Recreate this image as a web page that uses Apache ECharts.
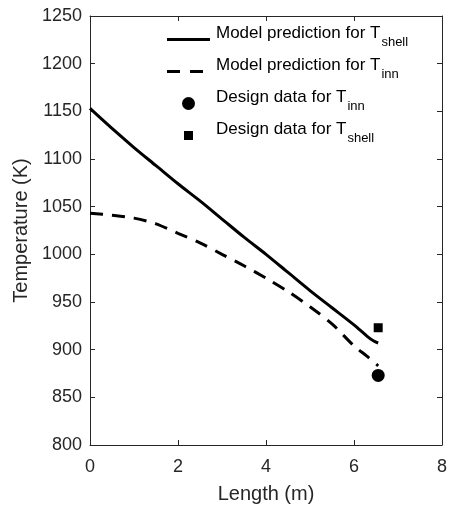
<!DOCTYPE html>
<html>
<head>
<meta charset="utf-8">
<script src="https://cdn.jsdelivr.net/npm/echarts@6/dist/echarts.min.js"></script>
<style>
  html, body { margin: 0; padding: 0; background: #fff; }
  #chart { width: 450px; height: 509px; }
</style>
</head>
<body>
<div id="chart"></div>
<script>
// Axial position along the reactor (m)
var shellLength = [0, 0.5, 1, 1.5, 2, 2.5, 3, 3.5, 4, 4.5, 5, 5.5, 6, 6.3, 6.45, 6.55];
// Model prediction, shell temperature (K)
var shellTemp = [1153, 1132, 1112, 1093, 1074, 1056, 1037, 1018, 1000, 981, 962, 944, 926, 914, 909, 907];

var innLength = [0, 0.5, 1, 1.5, 2, 2.5, 3, 3.5, 4, 4.5, 5, 5.5, 6, 6.3, 6.55];
// Model prediction, inner tube temperature (K)
var innTemp = [1043, 1041, 1038, 1032, 1022, 1012, 1000, 988, 975, 961, 945, 927, 904, 893, 883];

// Design data at the outlet
var designInn = [[6.55, 873]];
var designShell = [[6.55, 923]];

var xTicks = [0, 2, 4, 6, 8];
var yTicks = [800, 850, 900, 950, 1000, 1050, 1100, 1150, 1200, 1250];

var seriesNames = [
  'Model prediction for T|shell',
  'Model prediction for T|inn',
  'Design data for T|inn',
  'Design data for T|shell'
];

// Legend glyphs in a 43 x 18 box (leading moves fix the box extent);
// each glyph sits on the text baseline, slightly below the box centre
var box = 'M0,0 M43,18 ';
var legendIcons = [
  'path://' + box + 'M0,10 L43,10 L43,13 L0,13 Z',
  'path://' + box + 'M0,10 L13,10 L13,13 L0,13 Z M23,10 L36,10 L36,13 L23,13 Z',
  'path://' + box + 'M28,11.5 A6.5,6.5 0 1 1 15,11.5 A6.5,6.5 0 1 1 28,11.5 Z',
  'path://' + box + 'M17,7 L26,7 L26,16 L17,16 Z'
];

function pairs(xs, ys) {
  return xs.map(function (x, i) { return [x, ys[i]]; });
}

var axisColor = '#262626';
var fontFamily = 'Liberation Sans, Arial, sans-serif';

var chart = echarts.init(document.getElementById('chart'), null, { renderer: 'canvas' });

function frameAxis(extra) {
  return Object.assign({
    axisLine: { show: true, onZero: false, lineStyle: { color: axisColor, width: 1 } },
    axisTick: { show: true, inside: true, length: 5, lineStyle: { color: axisColor } },
    splitLine: { show: false }
  }, extra);
}

chart.setOption({
  animation: false,
  backgroundColor: '#ffffff',
  grid: { left: 90, right: 5, top: 16, bottom: 61, containLabel: false },
  xAxis: [
    frameAxis({
      type: 'value', min: xTicks[0], max: xTicks[xTicks.length - 1], interval: 2,
      name: 'Length (m)', nameLocation: 'middle', nameGap: 39,
      nameTextStyle: { color: axisColor, fontSize: 20, fontFamily: fontFamily },
      axisLabel: { color: axisColor, fontSize: 18, fontFamily: fontFamily, margin: 13,
        formatter: function (v) { return String(v); } }
    }),
    frameAxis({
      type: 'value', position: 'top', min: xTicks[0], max: xTicks[xTicks.length - 1], interval: 2,
      axisLabel: { show: false }
    })
  ],
  yAxis: [
    frameAxis({
      type: 'value', min: yTicks[0], max: yTicks[yTicks.length - 1], interval: 50,
      name: 'Temperature (K)', nameLocation: 'middle', nameGap: 57,
      nameTextStyle: { color: axisColor, fontSize: 20, fontFamily: fontFamily },
      axisLabel: { color: axisColor, fontSize: 18, fontFamily: fontFamily, margin: 8,
        formatter: function (v) { return String(v); } }
    }),
    frameAxis({
      type: 'value', position: 'right', min: yTicks[0], max: yTicks[yTicks.length - 1], interval: 50,
      axisLabel: { show: false }
    })
  ],
  legend: {
    orient: 'vertical',
    left: 167,
    top: 25,
    padding: 0,
    itemWidth: 43,
    itemHeight: 18,
    itemGap: 8,
    symbolKeepAspect: true,
    data: seriesNames.map(function (n, i) {
      return { name: n, icon: legendIcons[i], itemStyle: { color: '#000', borderWidth: 0, opacity: 1 } };
    }),
    formatter: function (name) {
      var parts = name.split('|');
      return '{a|' + parts[0] + '}{s|' + parts[1] + '}';
    },
    textStyle: {
      color: '#000',
      fontFamily: fontFamily,
      rich: {
        a: { fontSize: 17, fontFamily: fontFamily, color: '#000', lineHeight: 24,
          verticalAlign: 'top', padding: [0, 0, 0, 1] },
        s: { fontSize: 13, fontFamily: fontFamily, color: '#000', lineHeight: 24,
          verticalAlign: 'bottom', padding: [0, 0, 0, 1] }
      }
    }
  },
  series: [
    {
      name: seriesNames[0], type: 'line', data: pairs(shellLength, shellTemp),
      showSymbol: false, symbol: 'none', smooth: 0.3,
      lineStyle: { color: '#000', width: 3, type: 'solid' },
      itemStyle: { color: '#000' }
    },
    {
      name: seriesNames[1], type: 'line', data: pairs(innLength, innTemp),
      showSymbol: false, symbol: 'none', smooth: 0.3,
      lineStyle: { color: '#000', width: 3, type: [13, 9] },
      itemStyle: { color: '#000' }
    },
    {
      name: seriesNames[2], type: 'scatter', data: designInn,
      symbol: 'circle', symbolSize: 13,
      itemStyle: { color: '#000', opacity: 1 }
    },
    {
      name: seriesNames[3], type: 'scatter', data: designShell,
      symbol: 'rect', symbolSize: 9,
      itemStyle: { color: '#000', opacity: 1 }
    }
  ]
});
</script>
</body>
</html>
